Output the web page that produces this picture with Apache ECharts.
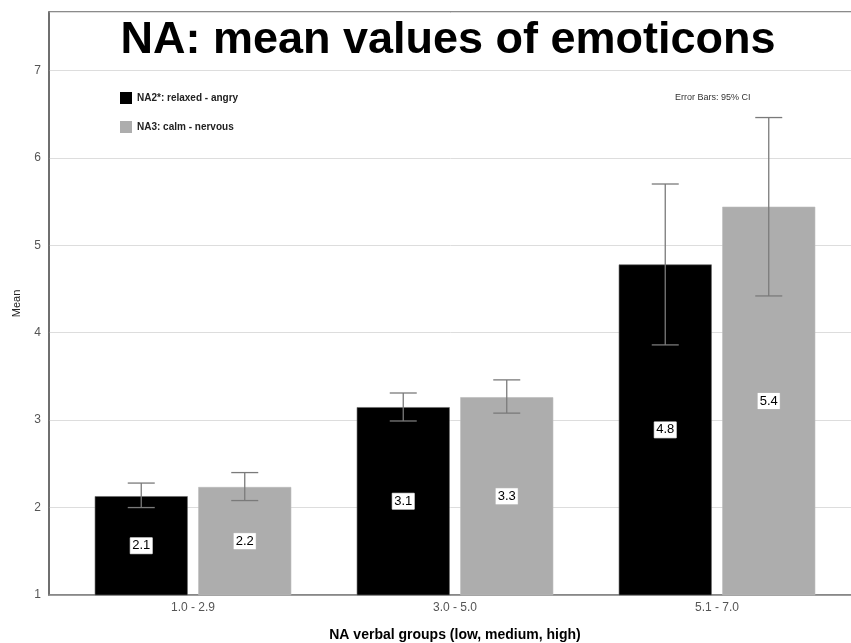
<!DOCTYPE html>
<html>
<head>
<meta charset="utf-8">
<script src="https://cdn.jsdelivr.net/npm/echarts@6/dist/echarts.min.js"></script>
<style>html,body{margin:0;padding:0;background:#fff}#c{width:851px;height:643px}</style>
</head>
<body>
<div id="c"></div>
<script>
const categories = ['1.0 - 2.9', '3.0 - 5.0', '5.1 - 7.0'];
const seriesNames = ['NA2*: relaxed - angry', 'NA3: calm - nervous'];
const na2Mean = [2.13, 3.148, 4.78];
const na3Mean = [2.235, 3.262, 5.44];
const na2Low = [2.00, 2.99, 3.86];
const na2High = [2.28, 3.31, 5.70];
const na3Low = [2.08, 3.08, 4.42];
const na3High = [2.40, 3.46, 6.46];
const yTicks = [1, 2, 3, 4, 5, 6, 7];

const FONT = 'Liberation Sans, Arial, sans-serif';
const BAR_W = 93, BAR_GAP_PX = 10.5;
const OFFSET = (BAR_W + BAR_GAP_PX) / 2;
const YMIN = 1, YMAX = 7.667;

function errSeries(low, high, off) {
  return {
    type: 'custom', xAxisIndex: 1, yAxisIndex: 1, z: 5, silent: true,
    data: categories.map((c, i) => [i, low[i], high[i]]),
    encode: { x: 0, y: [1, 2] },
    renderItem: function (params, api) {
      const lo = api.coord([api.value(0), api.value(1)]);
      const hi = api.coord([api.value(0), api.value(2)]);
      const x = lo[0] + off, cap = 13.5;
      const st = { stroke: '#7a7a7a', lineWidth: 1.3 };
      return { type: 'group', children: [
        { type: 'line', shape: { x1: x, y1: lo[1], x2: x, y2: hi[1] }, style: st },
        { type: 'line', shape: { x1: x - cap, y1: lo[1], x2: x + cap, y2: lo[1] }, style: st },
        { type: 'line', shape: { x1: x - cap, y1: hi[1], x2: x + cap, y2: hi[1] }, style: st }
      ]};
    }
  };
}

const labelStyle = {
  show: true, position: 'inside', color: '#000', fontSize: 13, fontFamily: FONT,
  backgroundColor: '#fff', padding: [2, 2, 1, 2], borderColor: '#bbb', borderWidth: 0.5,
  formatter: p => p.value.toFixed(1)
};

const chart = echarts.init(document.getElementById('c'), null, { renderer: 'canvas' });
chart.setOption({
  backgroundColor: '#fff',
  animation: false,
  title: [
    { text: 'NA: mean values of emoticons', left: 443, top: 13, textAlign: 'center',
      textStyle: { fontFamily: FONT, fontSize: 45, fontWeight: 'bold', color: '#000' } },
    { text: 'Error Bars: 95% CI', left: 670, top: 88,
      textStyle: { fontFamily: FONT, fontSize: 9, fontWeight: 'normal', color: '#333' } }
  ],
  legend: {
    orient: 'vertical', left: 115, top: 87, itemWidth: 12, itemHeight: 12, itemGap: 17,
    icon: 'rect', data: seriesNames, itemStyle: { borderWidth: 0 },
    textStyle: { fontFamily: FONT, fontSize: 10, fontWeight: 'bold', color: '#222' }
  },
  grid: [
    { left: 49, right: -2, top: 12, bottom: 48, show: true, borderColor: '#666', borderWidth: 1.5,
      backgroundColor: 'transparent', outerBoundsMode: 'none', containLabel: false },
    { left: 62, right: 3, top: 12, bottom: 48, outerBoundsMode: 'none', containLabel: false }
  ],
  xAxis: [
    { type: 'category', gridIndex: 0, data: categories,
      axisLine: { show: true, lineStyle: { color: '#888', width: 1.5 } },
      axisTick: { show: false }, axisLabel: { show: false }, splitLine: { show: false } },
    { type: 'category', gridIndex: 1, data: categories,
      axisLine: { show: false }, axisTick: { show: false },
      axisLabel: { color: '#555', fontSize: 12, fontFamily: FONT, margin: 7 },
      name: 'NA verbal groups (low, medium, high)', nameLocation: 'middle', nameGap: 33,
      nameTextStyle: { fontFamily: FONT, fontSize: 14, fontWeight: 'bold', color: '#000' } }
  ],
  yAxis: [
    { type: 'value', gridIndex: 0, min: YMIN, max: YMAX, interval: 1,
      axisLine: { show: true, lineStyle: { color: '#666', width: 1.5 } },
      axisTick: { show: false },
      axisLabel: { color: '#555', fontSize: 12, fontFamily: FONT, margin: 8, showMaxLabel: false,
        formatter: v => yTicks.includes(v) ? String(v) : '' },
      splitLine: { show: true, lineStyle: { color: '#ddd', width: 1 } },
      name: 'Mean', nameLocation: 'middle', nameGap: 27, nameRotate: 90,
      nameTextStyle: { fontFamily: FONT, fontSize: 11, color: '#222' } },
    { type: 'value', gridIndex: 1, min: YMIN, max: YMAX, interval: 1, show: false,
      splitLine: { show: false } }
  ],
  series: [
    { name: seriesNames[0], type: 'bar', xAxisIndex: 1, yAxisIndex: 1, data: na2Mean,
      barWidth: BAR_W, barGap: (BAR_GAP_PX / BAR_W * 100).toFixed(1) + '%',
      itemStyle: { color: '#000', borderColor: '#666', borderWidth: 0.6 }, label: labelStyle, z: 3 },
    { name: seriesNames[1], type: 'bar', xAxisIndex: 1, yAxisIndex: 1, data: na3Mean,
      barWidth: BAR_W,
      itemStyle: { color: '#adadad', borderColor: '#bbb', borderWidth: 0.6 }, label: labelStyle, z: 3 },
    errSeries(na2Low, na2High, -OFFSET),
    errSeries(na3Low, na3High, OFFSET)
  ]
});
</script>
</body>
</html>
